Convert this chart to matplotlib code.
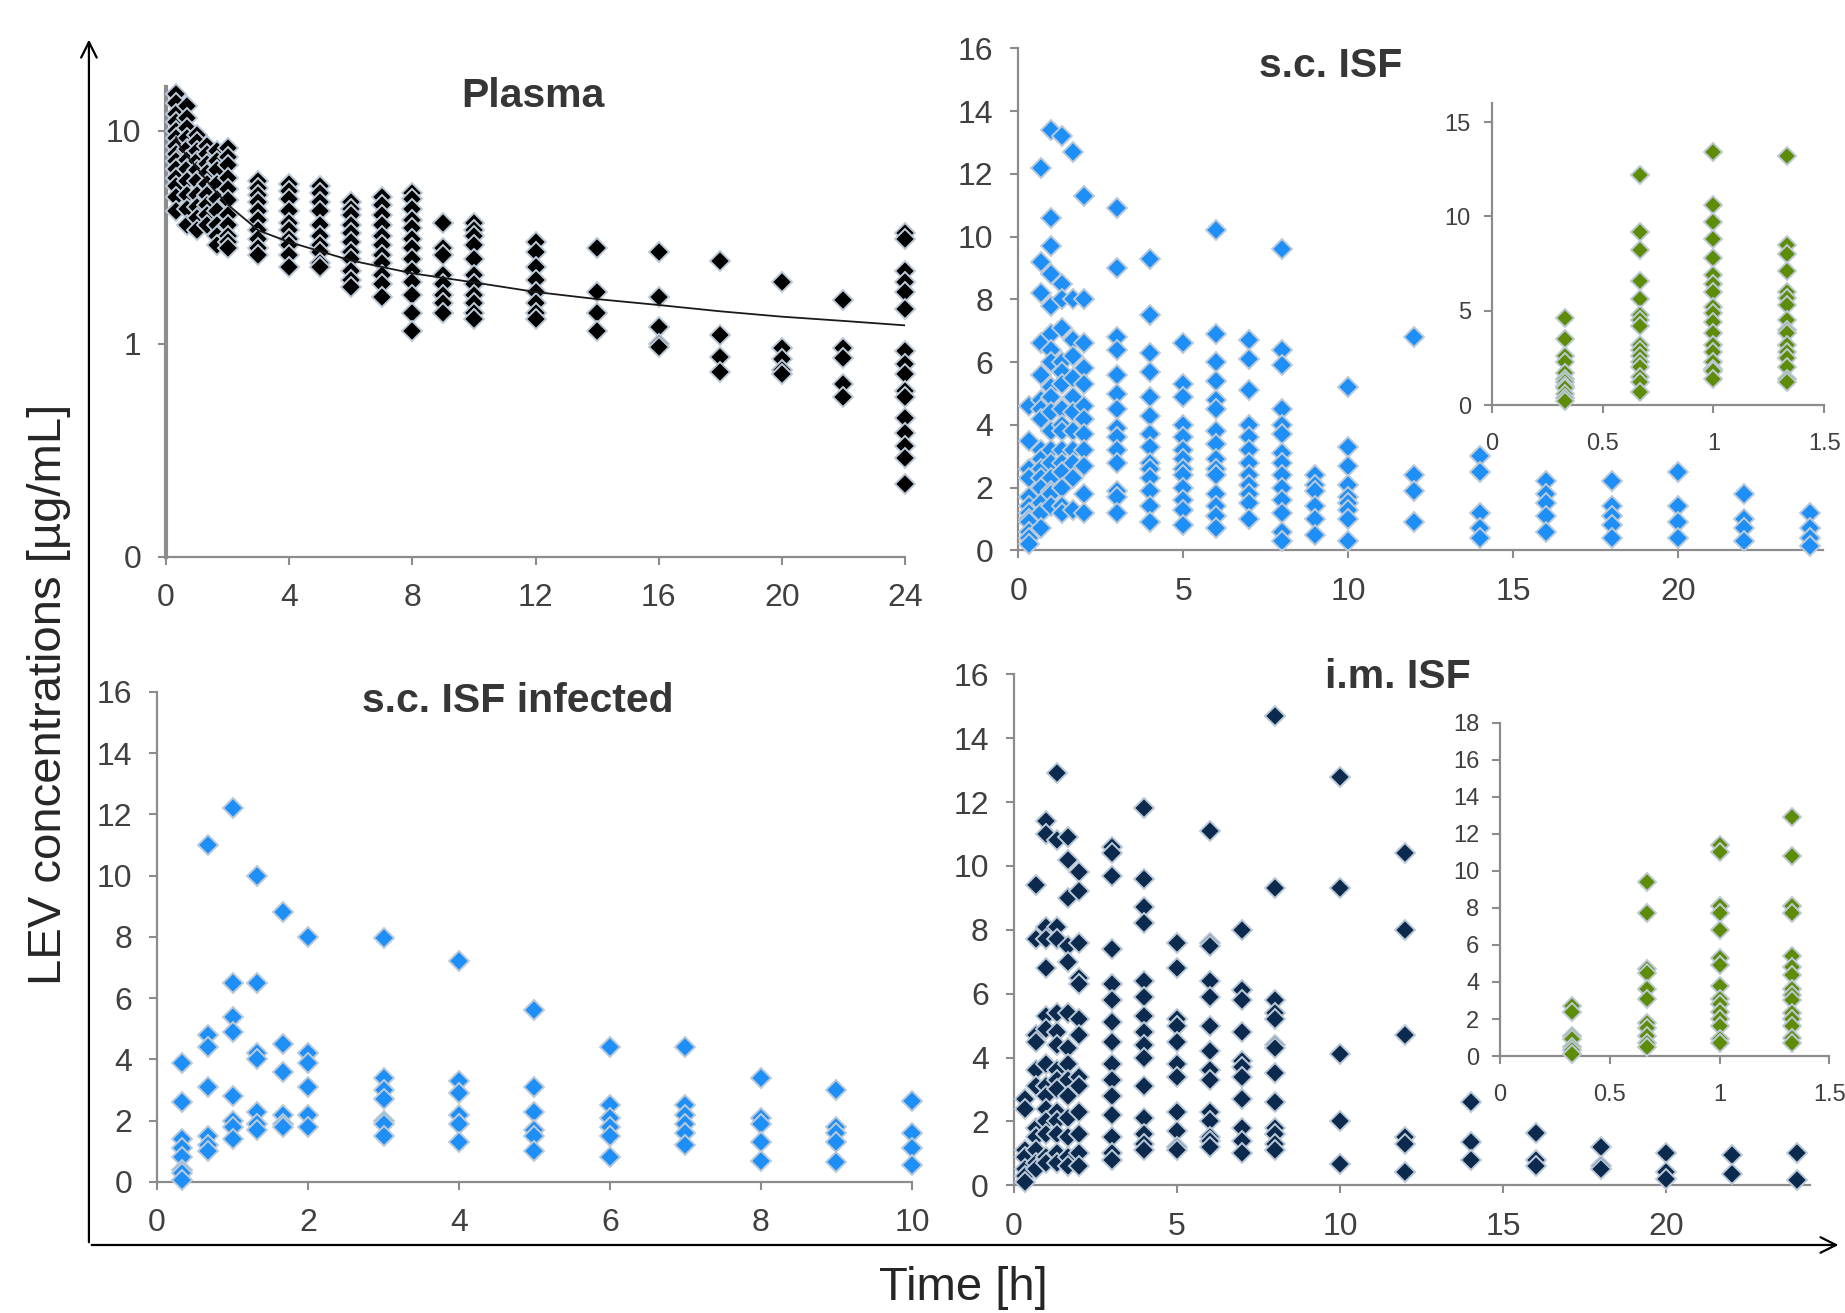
import matplotlib
matplotlib.use("Agg")
import matplotlib.pyplot as plt
from matplotlib.ticker import FixedLocator, FixedFormatter

plt.rcParams['font.family'] = ['Liberation Sans', 'DejaVu Sans']

# --- Plasma (log scale) ---
plasma_times = [0.33, 0.67, 1, 1.33, 1.67, 2, 3, 4, 5, 6, 7, 8, 9, 10, 12, 14, 16, 18, 20, 22, 24]
plasma_conc = [
    [14.9, 13.5, 12.0, 11.0, 10.0, 9.2, 8.5, 7.8, 7.2, 6.6, 6.0, 5.5, 4.9, 4.2],
    [13.0, 11.5, 10.3, 9.2, 8.2, 7.3, 6.6, 5.8, 5.0, 4.3, 3.6],
    [9.5, 8.8, 8.0, 7.2, 6.5, 5.8, 5.0, 4.4, 3.9, 3.4],
    [8.5, 7.8, 7.0, 6.3, 5.6, 5.0, 4.5, 4.0, 3.6],
    [8.0, 7.2, 6.5, 5.6, 4.8, 4.2, 3.6, 3.2, 2.9],
    [8.3, 7.5, 6.9, 6.0, 5.3, 4.7, 4.0, 3.6, 3.2, 3.0, 2.8],
    [5.8, 5.4, 5.0, 4.6, 4.2, 3.8, 3.4, 3.1, 2.8, 2.6],
    [5.6, 5.2, 4.8, 4.2, 3.7, 3.4, 3.1, 2.9, 2.6, 2.3],
    [5.5, 5.1, 4.6, 4.2, 3.6, 3.2, 2.9, 2.7, 2.4, 2.3],
    [4.6, 4.3, 4.0, 3.6, 3.3, 3.0, 2.7, 2.5, 2.2, 2.0, 1.85],
    [4.9, 4.5, 4.0, 3.6, 3.2, 2.9, 2.6, 2.4, 2.1, 1.9, 1.65],
    [5.1, 4.8, 4.3, 3.8, 3.5, 3.1, 2.8, 2.5, 2.2, 1.95, 1.7, 1.4, 1.15],
    [3.7, 2.8, 2.6, 2.1, 1.9, 1.7, 1.55, 1.4],
    [3.7, 3.4, 3.2, 2.9, 2.5, 2.1, 1.9, 1.7, 1.55, 1.4, 1.3],
    [3.0, 2.7, 2.3, 2.0, 1.75, 1.55, 1.4, 1.3],
    [2.8, 1.75, 1.4, 1.15],
    [2.7, 1.65, 1.2, 1.0, 0.97],
    [2.45, 1.1, 0.87, 0.74],
    [1.95, 0.96, 0.85, 0.75, 0.72],
    [1.6, 0.96, 0.86, 0.65, 0.56],
    [3.3, 3.1, 2.2, 1.95, 1.75, 1.45, 0.92, 0.8, 0.72, 0.6, 0.56, 0.45, 0.38, 0.33, 0.29, 0.22],
]
fit_times = [0.33, 0.5, 1, 1.5, 2, 3, 4, 6, 8, 10, 12, 14, 16, 18, 20, 22, 24]
fit_conc = [9.3, 8.2, 6.7, 5.4, 4.5, 3.4, 3.0, 2.46, 2.14, 1.94, 1.75, 1.62, 1.52, 1.42, 1.34, 1.28, 1.22]

# --- s.c. ISF ---
sc_times = [0.33, 0.67, 1, 1.33, 1.67, 2, 3, 4, 5, 6, 7, 8, 9, 10, 12, 14, 16, 18, 20, 22, 24]
sc_conc = [
    [4.6, 3.5, 2.6, 2.3, 1.7, 1.4, 1.2, 1.0, 0.9, 0.6, 0.4, 0.2],
    [12.2, 9.2, 8.2, 6.6, 5.6, 4.8, 4.5, 4.2, 3.2, 2.9, 2.6, 2.3, 2.0, 1.5, 1.2, 0.7],
    [13.4, 10.6, 9.7, 8.8, 7.8, 6.9, 6.4, 6.0, 5.2, 4.9, 4.4, 3.8, 3.2, 2.8, 2.3, 1.9, 1.8, 1.4],
    [13.2, 8.5, 8.0, 7.1, 6.0, 5.7, 5.3, 4.5, 4.0, 3.8, 3.2, 2.8, 2.5, 2.0, 1.4, 1.2],
    [12.7, 8.0, 6.7, 6.2, 5.5, 4.9, 4.4, 3.8, 3.2, 2.8, 2.3, 1.3],
    [11.3, 8.0, 6.6, 5.8, 5.3, 4.6, 4.2, 3.7, 3.2, 2.7, 1.8, 1.2],
    [10.9, 9.0, 6.8, 6.4, 5.6, 5.0, 4.5, 3.9, 3.6, 3.2, 2.8, 1.9, 1.7, 1.2],
    [9.3, 7.5, 6.3, 5.7, 4.9, 4.3, 3.7, 3.3, 2.8, 2.6, 2.3, 1.9, 1.4, 0.9],
    [6.6, 5.3, 4.9, 4.0, 3.6, 3.2, 2.9, 2.6, 2.4, 2.0, 1.6, 1.3, 0.8],
    [10.2, 6.9, 6.0, 5.4, 4.8, 4.5, 3.8, 3.4, 2.9, 2.6, 2.4, 1.8, 1.4, 1.1, 0.7],
    [6.7, 6.1, 5.1, 4.0, 3.6, 3.2, 2.8, 2.4, 2.1, 1.8, 1.5, 1.0],
    [9.6, 6.4, 5.9, 4.5, 4.0, 3.7, 3.1, 2.8, 2.4, 2.0, 1.6, 1.2, 0.6, 0.3],
    [2.4, 2.1, 1.9, 1.4, 1.0, 0.5],
    [5.2, 3.3, 2.7, 2.1, 1.7, 1.5, 1.3, 1.0, 0.3],
    [6.8, 2.4, 1.9, 0.9],
    [3.0, 2.5, 1.2, 0.7, 0.4],
    [2.2, 1.8, 1.5, 1.1, 0.6],
    [2.2, 1.4, 1.1, 0.8, 0.4],
    [2.5, 1.4, 0.9, 0.4],
    [1.8, 1.0, 0.7, 0.3],
    [1.2, 0.7, 0.4, 0.15],
]

# --- s.c. ISF infected ---
inf_times = [0.33, 0.67, 1, 1.33, 1.67, 2, 3, 4, 5, 6, 7, 8, 9, 10]
inf_conc = [
    [3.9, 2.6, 1.4, 1.1, 0.8, 0.4, 0.3, 0.05],
    [11.0, 4.8, 4.4, 3.1, 1.5, 1.2, 1.0],
    [12.2, 6.5, 5.4, 4.9, 2.8, 2.0, 1.8, 1.4],
    [10.0, 6.5, 4.2, 4.0, 2.3, 1.9, 1.7],
    [8.8, 4.5, 3.6, 2.2, 1.9, 1.8],
    [8.0, 4.2, 3.9, 3.1, 2.2, 1.8],
    [7.95, 3.4, 3.0, 2.7, 2.0, 1.9, 1.5],
    [7.2, 3.3, 2.9, 2.2, 1.9, 1.3],
    [5.6, 3.1, 2.3, 1.7, 1.5, 1.0],
    [4.4, 2.5, 2.1, 1.8, 1.5, 0.8],
    [4.4, 2.5, 2.2, 1.9, 1.6, 1.2],
    [3.4, 2.1, 1.9, 1.3, 0.7],
    [3.0, 1.8, 1.6, 1.3, 0.65],
    [2.65, 1.6, 1.1, 0.55],
]

# --- i.m. ISF ---
im_times = [0.33, 0.67, 1, 1.33, 1.67, 2, 3, 4, 5, 6, 7, 8, 10, 12, 14, 16, 18, 20, 22, 24]
im_conc = [
    [2.7, 2.4, 1.1, 0.9, 0.5, 0.3, 0.1],
    [9.4, 7.7, 4.7, 4.5, 3.6, 3.1, 1.8, 1.5, 1.1, 0.7, 0.5],
    [11.4, 11.0, 8.1, 7.7, 6.8, 5.3, 4.9, 3.8, 3.1, 2.8, 2.4, 2.0, 1.6, 0.9, 0.7],
    [12.9, 10.8, 8.1, 7.7, 5.4, 4.8, 4.4, 3.6, 3.3, 3.0, 2.3, 2.0, 1.6, 1.0, 0.7],
    [10.9, 10.2, 9.0, 7.5, 7.0, 5.4, 4.3, 3.8, 3.3, 2.8, 2.1, 1.5, 0.9, 0.6],
    [9.8, 9.2, 7.6, 6.5, 6.3, 5.2, 4.7, 3.4, 3.1, 2.3, 1.6, 1.0, 0.6],
    [10.6, 10.4, 9.7, 7.4, 6.3, 5.8, 5.1, 4.5, 3.8, 3.3, 2.8, 2.2, 1.5, 1.0, 0.8],
    [11.8, 9.6, 8.7, 8.2, 6.4, 5.9, 5.3, 4.8, 4.4, 4.0, 3.1, 2.1, 1.6, 1.3, 1.1],
    [7.6, 6.8, 5.2, 5.0, 4.5, 3.8, 3.4, 2.3, 1.7, 1.2, 1.1],
    [11.1, 7.6, 7.5, 6.4, 5.9, 5.0, 4.2, 3.6, 3.3, 2.3, 2.0, 1.5, 1.4, 1.2],
    [8.0, 6.1, 5.8, 4.8, 3.9, 3.7, 3.4, 2.7, 1.8, 1.4, 1.0],
    [14.7, 9.3, 5.8, 5.4, 5.2, 4.4, 4.3, 3.5, 2.6, 1.8, 1.6, 1.3, 1.1],
    [12.8, 9.3, 4.1, 2.0, 0.65],
    [10.4, 8.0, 4.7, 1.5, 1.3, 0.4],
    [2.6, 1.35, 0.8],
    [1.65, 0.8, 0.6],
    [1.2, 0.6, 0.5],
    [1.0, 0.4, 0.2],
    [0.95, 0.35],
    [1.0, 0.15],
]

TEXT = '#404040'
SPINE = '#8c8c8c'
EDGE = '#bccad8'


def style(ax, fs, xpad, ypad):
    for s in ['top', 'right']:
        ax.spines[s].set_visible(False)
    for s in ['left', 'bottom']:
        ax.spines[s].set_color(SPINE)
        ax.spines[s].set_linewidth(1.6)
    ax.tick_params(direction='out', length=6, width=1.5, color=SPINE,
                   labelsize=fs, labelcolor=TEXT)
    ax.tick_params(axis='x', pad=xpad)
    ax.tick_params(axis='y', pad=ypad)
    ax.minorticks_off()


def scatter(ax, times, conc, color, ms=10, tmax=None):
    for t, vals in zip(times, conc):
        if tmax is not None and t > tmax:
            continue
        ax.plot([t] * len(vals), vals, 'D', color=color, ms=ms, mec=EDGE,
                mew=1.4, clip_on=False, zorder=3)


def title(x, y, s):
    fig.text(x / 1845, 1 - y / 1313, s, fontsize=29.5, fontweight='bold',
             color='#363636', ha='center', va='center')


fig = plt.figure(figsize=(18.45, 13.13), dpi=100)

# outer arrows
bg = fig.add_axes([0, 0, 1, 1], zorder=-1)
bg.axis('off')
bg.set_xlim(0, 1)
bg.set_ylim(0, 1)
bg.annotate('', xy=(0.0482, 0.972), xytext=(0.0482, 0.0518),
            arrowprops=dict(arrowstyle='->', lw=1.6, color='black', mutation_scale=28))
bg.annotate('', xy=(0.998, 0.0518), xytext=(0.0482, 0.0518),
            arrowprops=dict(arrowstyle='->', lw=1.6, color='black', mutation_scale=28))

fig.text(0.0266, 0.4714, 'LEV concentrations [µg/mL]', rotation=90, fontsize=34,
         color='#262626', ha='center', va='center')
fig.text(0.522, 0.019, 'Time [h]', fontsize=34, color='#262626', ha='center', va='center')

# Plasma
ax1 = fig.add_axes([0.0900, 0.5758, 0.4005, 0.3579])
ax1.set_yscale('log')
scatter(ax1, plasma_times, plasma_conc, 'black')
ax1.plot(fit_times, fit_conc, '-', color='#1a1a1a', lw=1.3, zorder=4)
ax1.set_xlim(0, 24)
ax1.set_ylim(0.1, 16)
ax1.set_xticks(range(0, 25, 4))
ax1.yaxis.set_major_locator(FixedLocator([0.1, 1, 10]))
ax1.yaxis.set_major_formatter(FixedFormatter(['0', '1', '10']))
style(ax1, 23, 13, 12)
ax1.spines['left'].set_linewidth(3)
title(533, 96, 'Plasma')

# s.c. ISF
ax2 = fig.add_axes([0.552, 0.5808, 0.436, 0.3823])
scatter(ax2, sc_times, sc_conc, '#1e8ff7')
ax2.set_xlim(0, 24.4)
ax2.set_ylim(0, 16)
ax2.set_xticks(range(0, 21, 5))
ax2.set_yticks(range(0, 17, 2))
style(ax2, 23, 13, 12)
title(1331, 66, 's.c. ISF')

ax2i = fig.add_axes([0.8085, 0.6915, 0.1803, 0.2298])
ax2i.patch.set_alpha(0)
scatter(ax2i, sc_times, sc_conc, '#5f8c08', ms=9, tmax=1.5)
ax2i.set_xlim(0, 1.5)
ax2i.set_ylim(0, 16)
ax2i.set_xticks([0, 0.5, 1, 1.5])
ax2i.set_xticklabels(['0', '0.5', '1', '1.5'])
ax2i.set_yticks([0, 5, 10, 15])
style(ax2i, 17, 14, 9)

# s.c. ISF infected
ax3 = fig.add_axes([0.0851, 0.0998, 0.4092, 0.3732])
scatter(ax3, inf_times, inf_conc, '#1e8ff7')
ax3.set_xlim(0, 10)
ax3.set_ylim(0, 16)
ax3.set_xticks(range(0, 11, 2))
ax3.set_yticks(range(0, 17, 2))
style(ax3, 23, 13, 12)
title(518, 701, 's.c. ISF infected')

# i.m. ISF
ax4 = fig.add_axes([0.5495, 0.0973, 0.4315, 0.3891])
scatter(ax4, im_times, im_conc, '#0c2a4e')
ax4.set_xlim(0, 24.4)
ax4.set_ylim(0, 16)
ax4.set_xticks(range(0, 21, 5))
ax4.set_yticks(range(0, 17, 2))
style(ax4, 23, 13, 12)
title(1398, 677, 'i.m. ISF')

ax4i = fig.add_axes([0.813, 0.1957, 0.1785, 0.2539])
ax4i.patch.set_alpha(0)
scatter(ax4i, im_times, im_conc, '#5f8c08', ms=9, tmax=1.5)
ax4i.set_xlim(0, 1.5)
ax4i.set_ylim(0, 18)
ax4i.set_xticks([0, 0.5, 1, 1.5])
ax4i.set_xticklabels(['0', '0.5', '1', '1.5'])
ax4i.set_yticks(range(0, 19, 2))
style(ax4i, 17, 14, 9)

fig.savefig('out.png', dpi=100)
